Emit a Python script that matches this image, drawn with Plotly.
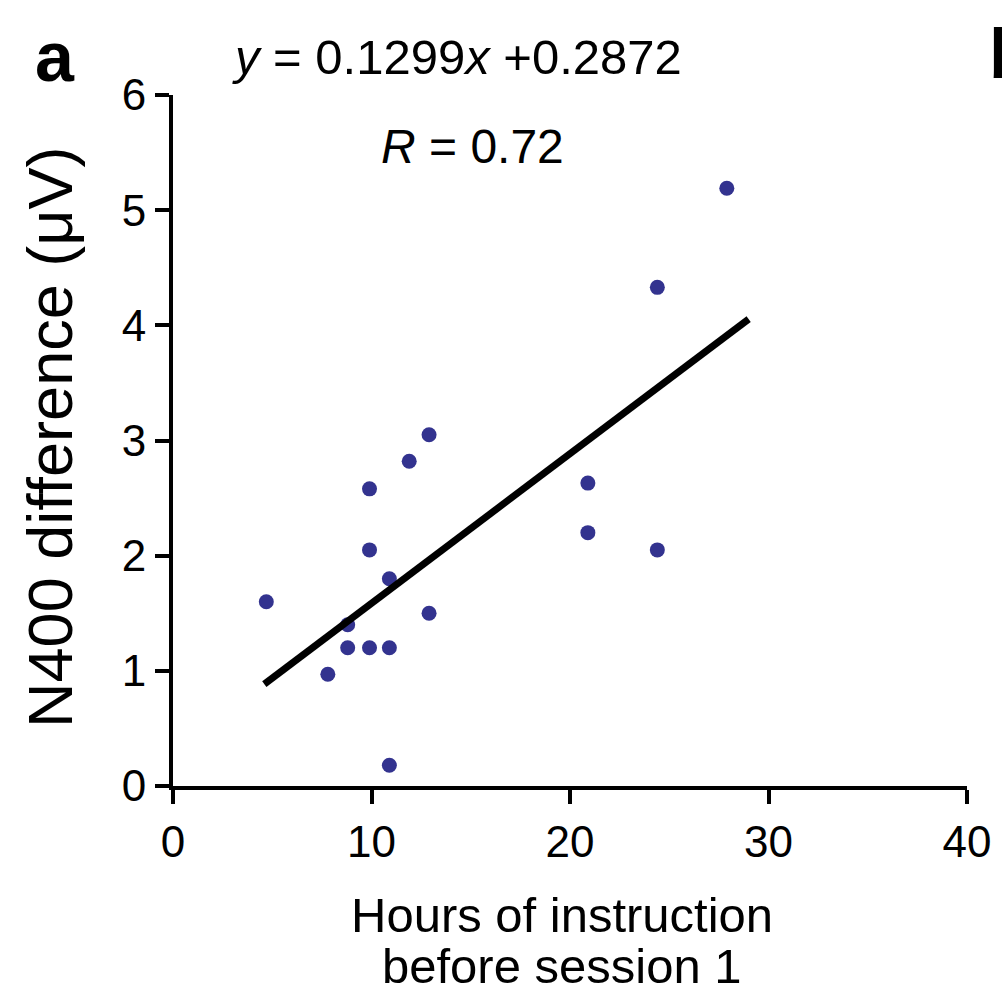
import plotly.graph_objects as go

hours = [4.7, 7.8, 8.8, 8.8, 9.9, 9.9, 9.9, 10.9, 10.9, 10.9, 11.9, 12.9, 12.9, 20.9, 20.9, 24.4, 24.4, 27.9]
n400 = [1.60, 0.97, 1.40, 1.20, 2.58, 2.05, 1.20, 1.80, 1.20, 0.18, 2.82, 3.05, 1.50, 2.63, 2.20, 4.33, 2.05, 5.19]
slope = 0.1299
intercept = 0.2872
fit_x = [4.6, 29.0]
fit_y = [slope * v + intercept for v in fit_x]
x_ticks = [0, 10, 20, 30, 40]
y_ticks = [0, 1, 2, 3, 4, 5, 6]

FONT = "Liberation Sans, Arial, sans-serif"

fig = go.Figure()
fig.add_trace(go.Scatter(x=hours, y=n400, mode="markers",
                         marker=dict(symbol="circle", size=15, color="#33338f"),
                         showlegend=False, cliponaxis=False))
fig.add_trace(go.Scatter(x=fit_x, y=fit_y, mode="lines",
                         line=dict(color="black", width=7), showlegend=False))

fig.update_layout(
    width=1002, height=996,
    margin=dict(l=173, r=35, t=95, b=210),
    plot_bgcolor="white", paper_bgcolor="white",
    font=dict(family=FONT, color="black"),
    xaxis=dict(range=[0, 40], tickvals=x_ticks, showgrid=False, zeroline=False,
               showline=True, linecolor="black", linewidth=4,
               ticks="outside", ticklen=14, tickwidth=4, tickcolor="black",
               tickfont=dict(size=44, family=FONT)),
    yaxis=dict(range=[0, 6], tickvals=y_ticks, showgrid=False, zeroline=False,
               showline=True, linecolor="black", linewidth=4,
               ticks="outside", ticklen=14, tickwidth=4, tickcolor="black",
               tickfont=dict(size=44, family=FONT)),
)

# paper height = 996-95-210 = 691 px; bottom of plot at y=786
def py(pix):
    return (786 - pix) / 691.0

fig.add_annotation(text="Hours of instruction", xref="paper", yref="paper",
                   x=0.49, y=py(915), xanchor="center", yanchor="middle", showarrow=False,
                   font=dict(size=49, family=FONT))
fig.add_annotation(text="before session 1", xref="paper", yref="paper",
                   x=0.49, y=py(966), xanchor="center", yanchor="middle", showarrow=False,
                   font=dict(size=49, family=FONT))
fig.add_annotation(text="N400 difference (μV)", xref="paper", yref="paper",
                   x=-0.155, y=py(437), xanchor="center", yanchor="middle", textangle=-90,
                   showarrow=False, font=dict(size=63, family=FONT))
fig.add_annotation(text="<i>y</i> = 0.1299<i>x</i> +0.2872", xref="paper", yref="paper",
                   x=0.358, y=1.055, xanchor="center", yanchor="middle", showarrow=False,
                   font=dict(size=49, family=FONT))
fig.add_annotation(text="<i>R</i> = 0.72", xref="paper", yref="paper",
                   x=0.377, y=0.925, xanchor="center", yanchor="middle", showarrow=False,
                   font=dict(size=48, family=FONT))
fig.add_annotation(text="<b>a</b>", xref="paper", yref="paper",
                   x=-0.148, y=1.055, xanchor="center", yanchor="middle", showarrow=False,
                   font=dict(size=70, family=FONT))
fig.add_annotation(text="<b>b</b>", xref="paper", yref="paper",
                   x=1.025, y=1.06, xanchor="left", yanchor="middle", showarrow=False,
                   font=dict(size=70, family=FONT))

fig.write_html("out.html")
